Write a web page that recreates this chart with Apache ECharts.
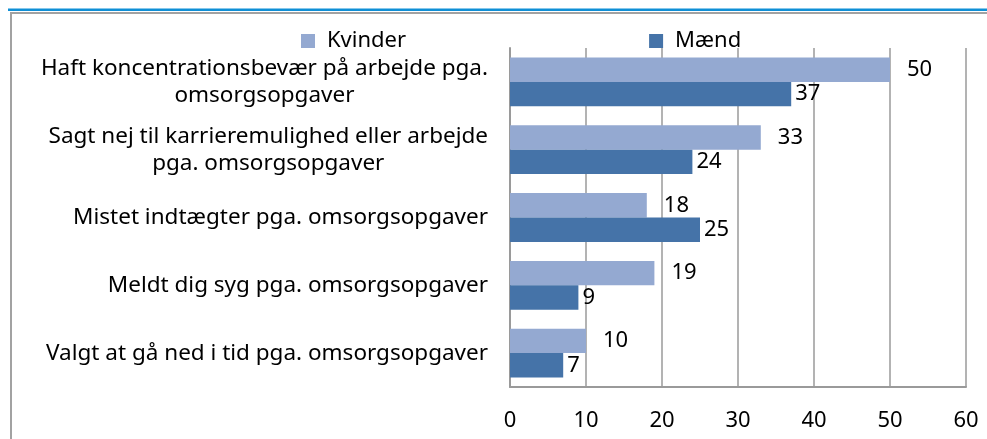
<!DOCTYPE html>
<html>
<head>
<meta charset="utf-8">
<script src="https://cdn.jsdelivr.net/npm/echarts@6/dist/echarts.min.js"></script>
<style>
html,body{margin:0;padding:0;background:#fff;}
#chart{width:987px;height:439px;}
</style>
</head>
<body>
<div id="chart"></div>
<script>
const categories = [
  "Haft koncentrationsbevær på arbejde pga.\nomsorgsopgaver",
  "Sagt nej til karrieremulighed eller arbejde\npga. omsorgsopgaver",
  "Mistet indtægter pga. omsorgsopgaver",
  "Meldt dig syg pga. omsorgsopgaver",
  "Valgt at gå ned i tid pga. omsorgsopgaver"
];
const kvinder = [50, 33, 18, 19, 10];
const maend = [37, 24, 25, 9, 7];
const xTicks = [0, 10, 20, 30, 40, 50, 60];

const FONT = "Noto Sans";
const FS = 22;
const chart = echarts.init(document.getElementById('chart'));
chart.setOption({
  animation: false,
  textStyle: { fontFamily: FONT },
  graphic: [
    { type: 'rect', shape: { x: 11, y: 13, width: 1000, height: 450 }, style: { fill: 'none', stroke: '#a2a2a2', lineWidth: 2 }, silent: true },
    { type: 'rect', shape: { x: 8, y: 8.5, width: 990, height: 2.5 }, style: { fill: '#0f8fd6' }, silent: true }
  ],
  legend: {
    data: ['Kvinder', 'Mænd'],
    left: 296, top: 25,
    itemWidth: 14, itemHeight: 14, itemGap: 243,
    icon: 'rect',
    textStyle: { fontSize: FS, color: '#000', fontFamily: FONT, padding: [0, 0, 0, 7] }
  },
  grid: { left: 510, right: 21, top: 48, bottom: 52, containLabel: false },
  xAxis: {
    type: 'value', min: 0, max: 60, interval: 10,
    axisLine: { show: true, lineStyle: { color: '#9a9a9a', width: 2 } },
    axisTick: { show: false },
    axisLabel: { fontSize: FS, color: '#000', margin: 23, fontFamily: FONT,
      formatter: v => xTicks.includes(v) ? String(v) : '' },
    splitLine: { show: true, lineStyle: { color: '#9a9a9a', width: 1.5 } }
  },
  yAxis: {
    type: 'category', inverse: true, data: categories,
    axisLine: { show: true, lineStyle: { color: '#9a9a9a', width: 2 } },
    axisTick: { show: false },
    axisLabel: {
      margin: 22, color: '#000',
      formatter: v => v.split('\n').map(s => '{c|' + s + '}').join('\n'),
      rich: { c: { align: 'center', fontSize: 22.5, lineHeight: 27, color: '#000', fontFamily: FONT } }
    }
  },
  series: [
    { name: 'Kvinder', type: 'bar', data: kvinder, barGap: '0%', barCategoryGap: '28%',
      itemStyle: { color: '#94a9d1' },
      label: { show: true, position: 'right', distance: 17, fontSize: FS, color: '#000', fontFamily: FONT } },
    { name: 'Mænd', type: 'bar', data: maend,
      itemStyle: { color: '#4573a8' },
      label: { show: true, position: 'right', distance: 4, fontSize: FS, color: '#000', fontFamily: FONT } }
  ]
});
</script>
</body>
</html>
